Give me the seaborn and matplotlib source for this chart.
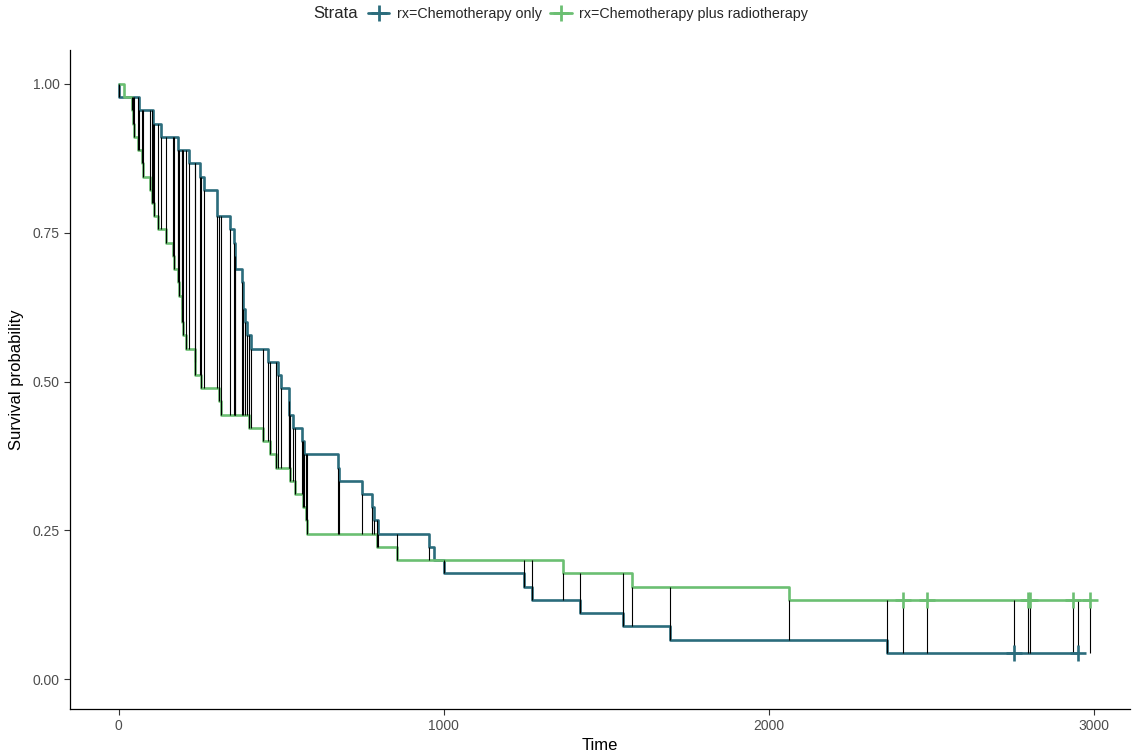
import numpy as np
import pandas as pd
import matplotlib
matplotlib.use("Agg")
import matplotlib.pyplot as plt
from matplotlib.lines import Line2D
import seaborn as sns

# Gastric cancer data (days), event=1 death, 0 censored
chemo_times = [1, 63, 105, 129, 182, 216, 250, 262, 301, 301, 342, 354, 356, 358,
               380, 383, 383, 388, 394, 408, 460, 489, 499, 523, 524, 535, 562, 569,
               675, 676, 748, 778, 786, 797, 955, 968, 1000, 1245, 1271, 1420, 1551,
               1694, 2363, 2754, 2950]
chemo_events = [1] * 43 + [0, 0]
combo_times = [17, 42, 44, 48, 60, 72, 74, 95, 103, 108, 122, 144, 167, 170, 183,
               185, 193, 195, 197, 208, 234, 235, 254, 307, 315, 401, 445, 464, 484,
               528, 542, 567, 577, 580, 795, 855, 1366, 1577, 2060, 2412, 2486, 2796,
               2802, 2934, 2988]
combo_events = [1] * 39 + [0] * 6

labels = ["rx=Chemotherapy only", "rx=Chemotherapy plus radiotherapy"]
colors = ["#2B6C7C", "#6BBF72"]
x_ticks = [0, 1000, 2000, 3000]
y_ticks = [0.0, 0.25, 0.5, 0.75, 1.0]
y_ticklabels = ["0.00", "0.25", "0.50", "0.75", "1.00"]


def km(times, events):
    t = np.array(times, float)
    e = np.array(events, int)
    ut = np.unique(t)
    s = 1.0
    out_t, out_s = [0.0], [1.0]
    for u in ut:
        d = int(((t == u) & (e == 1)).sum())
        at_risk = int((t >= u).sum())
        if d > 0:
            s *= (1 - d / at_risk)
        out_t.append(u)
        out_s.append(s)
    return np.array(out_t), np.array(out_s)


def step_eval(ts, ss, x):
    idx = np.searchsorted(ts, x, side="right") - 1
    return ss[idx]


t1, s1 = km(chemo_times, chemo_events)
t2, s2 = km(combo_times, combo_events)

df = pd.concat([
    pd.DataFrame({"time": t1, "surv": s1, "strata": labels[0]}),
    pd.DataFrame({"time": t2, "surv": s2, "strata": labels[1]}),
])

cens = pd.concat([
    pd.DataFrame({"time": [t for t, e in zip(chemo_times, chemo_events) if e == 0],
                  "strata": labels[0]}),
    pd.DataFrame({"time": [t for t, e in zip(combo_times, combo_events) if e == 0],
                  "strata": labels[1]}),
])
cens["surv"] = [step_eval(t1, s1, x) if g == labels[0] else step_eval(t2, s2, x)
                for x, g in zip(cens["time"], cens["strata"])]

sns.set_theme(style="ticks")
plt.rcParams["font.family"] = ["Liberation Sans", "DejaVu Sans"]

fig = plt.figure(figsize=(11.35, 7.55), dpi=100)
ax = fig.add_axes([70 / 1135, 1 - 709 / 755, 1060 / 1135, 659 / 755])

pal = dict(zip(labels, colors))
sns.lineplot(data=df, x="time", y="surv", hue="strata", palette=pal,
             estimator=None, sort=False, drawstyle="steps-post",
             linewidth=1.9, ax=ax, legend=False, zorder=2)

# vertical connectors between the two curves at every observed time
all_t = np.unique(np.concatenate([t1, t2]))
ya = step_eval(t1, s1, all_t)
yb = step_eval(t2, s2, all_t)
ax.vlines(all_t, ya, yb, colors="black", linewidth=0.8, zorder=3)

for g in labels:
    sub = cens[cens["strata"] == g]
    ax.plot(sub["time"], sub["surv"], linestyle="none", marker="+",
            markersize=11, markeredgewidth=1.9, color=pal[g], zorder=4)

ax.set_xlim(-150, 3110)
ax.set_ylim(-0.05, 1.057)
ax.set_xticks(x_ticks)
ax.set_yticks(y_ticks)
ax.set_yticklabels(y_ticklabels)
ax.tick_params(axis="both", labelsize=10, labelcolor="#4D4D4D", color="#333333",
               length=4, width=0.8)
for sp in ["left", "bottom"]:
    ax.spines[sp].set_linewidth(0.9)
    ax.spines[sp].set_color("black")
sns.despine(ax=ax)
ax.set_xlabel("Time", fontsize=12, color="black", labelpad=3)
ax.set_ylabel("Survival probability", fontsize=12, color="black", labelpad=6)

# legend at top
fig.text(313 / 1135, 1 - 14 / 755, "Strata", fontsize=12, va="center", ha="left")
handles = [Line2D([0], [0], color=c, marker="+", markersize=11, markeredgewidth=2.0,
                  linewidth=2.0) for c in colors]
fig.legend(handles, labels, loc="center left", bbox_to_anchor=(368 / 1135, 1 - 14 / 755),
           ncol=2, frameon=False, fontsize=10.3, handlelength=1.5, handletextpad=0.5,
           columnspacing=0.6, borderaxespad=0, borderpad=0)

fig.savefig("out.png", dpi=100)
